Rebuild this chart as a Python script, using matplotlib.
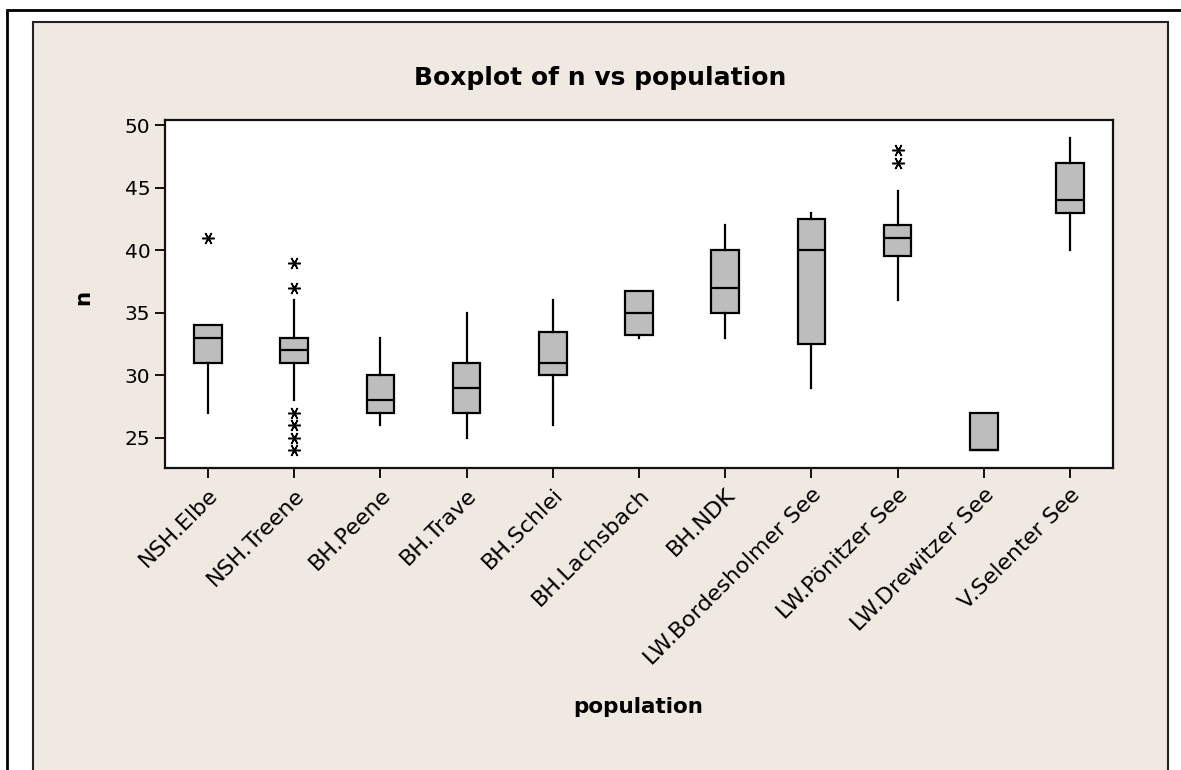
import matplotlib.pyplot as plt
from matplotlib.patches import Rectangle

populations = ["NSH.Elbe", "NSH.Treene", "BH.Peene", "BH.Trave", "BH.Schlei",
               "BH.Lachsbach", "BH.NDK", "LW.Bordesholmer See", "LW.Pönitzer See",
               "LW.Drewitzer See", "V.Selenter See"]

# five-number summaries of n per population
whisker_low = [27, 28, 26, 25, 26, 33, 33, 29, 36, 24, 40]
q1 = [31, 31, 27, 27, 30, 33.25, 35, 32.5, 39.5, 24, 43]
median = [33, 32, 28, 29, 31, 35, 37, 40, 41, 24, 44]
q3 = [34, 33, 30, 31, 33.5, 36.75, 40, 42.5, 42, 27, 47]
whisker_high = [34, 36, 33, 35, 36, 36.75, 42, 43, 44.75, 27, 49]
outliers = [[41], [24, 25, 26, 27, 37, 39], [], [], [], [], [], [], [47, 48], [], []]

panel_color = "#f0e9e2"

stats = []
for i, name in enumerate(populations):
    stats.append({"label": name, "whislo": whisker_low[i], "q1": q1[i],
                  "med": median[i], "q3": q3[i], "whishi": whisker_high[i],
                  "fliers": outliers[i]})

fig = plt.figure(figsize=(11.81, 7.70), dpi=100)
fig.patch.set_facecolor("white")

W, H = 1181, 770

# outer frame and beige panel, kept behind the axes
fig.patches.append(Rectangle((7 / W, -0.1), 1.2, 1 - 10 / H + 0.1, transform=fig.transFigure,
                             facecolor="white", edgecolor="black", lw=2, zorder=-2))
fig.patches.append(Rectangle((33 / W, -0.1), (1168 - 33) / W, 1 - 22 / H + 0.1,
                             transform=fig.transFigure, facecolor=panel_color,
                             edgecolor="#222222", lw=1.5, zorder=-1))

ax = fig.add_axes([165 / W, 1 - 468 / H, (1113 - 165) / W, (468 - 120) / H])
ax.set_facecolor("white")

ax.bxp(stats, positions=range(len(populations)), widths=0.32, patch_artist=True,
       showcaps=False,
       boxprops=dict(facecolor="#bdbdbd", edgecolor="black", linewidth=1.6),
       medianprops=dict(color="black", linewidth=1.6),
       whiskerprops=dict(color="black", linewidth=1.6),
       flierprops=dict(marker=(6, 2, 90), markersize=9, markeredgecolor="black",
                       markeredgewidth=1.1, linestyle="none"))

ax.set_xlim(-0.5, len(populations) - 0.5)
ax.set_ylim(22.6, 50.4)
ax.set_yticks([25, 30, 35, 40, 45, 50])

for side in ax.spines.values():
    side.set_linewidth(1.6)
    side.set_color("#111111")

ax.tick_params(axis="both", direction="out", length=7, width=1.3, labelsize=14.5,
               colors="black")
ax.tick_params(axis="x", pad=5)
ax.set_xticks(range(len(populations)))
ax.set_xticklabels(populations, rotation=45, ha="right", va="top",
                   rotation_mode="anchor", fontsize=16)

fig.text(600 / W, 1 - 78 / H, "Boxplot of n vs population", ha="center", va="center",
         fontsize=18, fontweight="bold")
fig.text(638 / W, 1 - 707 / H, "population", ha="center", va="center",
         fontsize=15.5, fontweight="bold")
fig.text(83 / W, 1 - 297 / H, "n", ha="center", va="center", rotation=90,
         fontsize=15.5, fontweight="bold")

fig.savefig("out.png", dpi=100)
